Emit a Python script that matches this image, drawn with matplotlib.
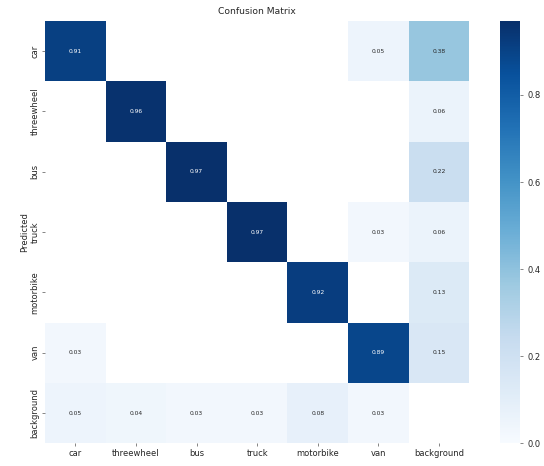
import numpy as np
import matplotlib
matplotlib.use("Agg")
import matplotlib.pyplot as plt

# Data
classes = ["car", "threewheel", "bus", "truck", "motorbike", "van", "background"]
row_car        = [0.91, 0.00, 0.00, 0.00, 0.00, 0.05, 0.38]
row_threewheel = [0.00, 0.96, 0.00, 0.00, 0.00, 0.00, 0.06]
row_bus        = [0.00, 0.00, 0.97, 0.00, 0.00, 0.00, 0.22]
row_truck      = [0.00, 0.00, 0.00, 0.97, 0.00, 0.03, 0.06]
row_motorbike  = [0.00, 0.00, 0.00, 0.00, 0.92, 0.00, 0.13]
row_van        = [0.03, 0.00, 0.00, 0.00, 0.00, 0.89, 0.15]
row_background = [0.05, 0.04, 0.03, 0.03, 0.08, 0.03, 0.00]
cbar_ticks = [0.0, 0.2, 0.4, 0.6, 0.8]

M = np.array([row_car, row_threewheel, row_bus, row_truck,
              row_motorbike, row_van, row_background])
masked = np.ma.masked_where(M < 0.005, M)

fig = plt.figure(figsize=(5.44, 4.66), dpi=100)
ax = fig.add_axes([0.0827, 0.049, 0.780, 0.906])
cax = fig.add_axes([0.919, 0.049, 0.037, 0.906])

cmap = plt.get_cmap("Blues").copy()
cmap.set_bad("white")
vmax = M.max()
n = len(classes)
mesh = ax.pcolormesh(np.arange(n + 1), np.arange(n + 1), masked,
                     cmap=cmap, vmin=0.0, vmax=vmax)
ax.set_xlim(0, n)
ax.set_ylim(n, 0)

for i in range(n):
    for j in range(n):
        v = M[i, j]
        if v >= 0.005:
            col = "white" if v / vmax > 0.6 else "#262626"
            ax.text(j + 0.5, i + 0.5, f"{v:.2f}", ha="center", va="center",
                    fontsize=4.3, color=col)

ax.set_xticks(np.arange(n) + 0.5)
ax.set_xticklabels(classes, fontsize=6, color="#262626")
ax.set_yticks(np.arange(n) + 0.5)
ax.set_yticklabels(classes, fontsize=6, color="#262626", rotation=90, va="center")
ax.tick_params(length=2, width=0.5, color="#555555", pad=2)
for s in ax.spines.values():
    s.set_visible(False)
ax.set_ylabel("Predicted", fontsize=6, color="#262626", labelpad=1)
ax.set_title("Confusion Matrix", fontsize=6.6, color="#262626", pad=5)

cb = fig.colorbar(mesh, cax=cax, ticks=cbar_ticks)
cb.outline.set_visible(False)
cb.ax.tick_params(labelsize=6, length=2, width=0.5, color="#555555", labelcolor="#262626")
cb.ax.set_yticklabels([f"{t:.1f}" for t in cbar_ticks])

fig.savefig("out.png", dpi=100, facecolor="white")
